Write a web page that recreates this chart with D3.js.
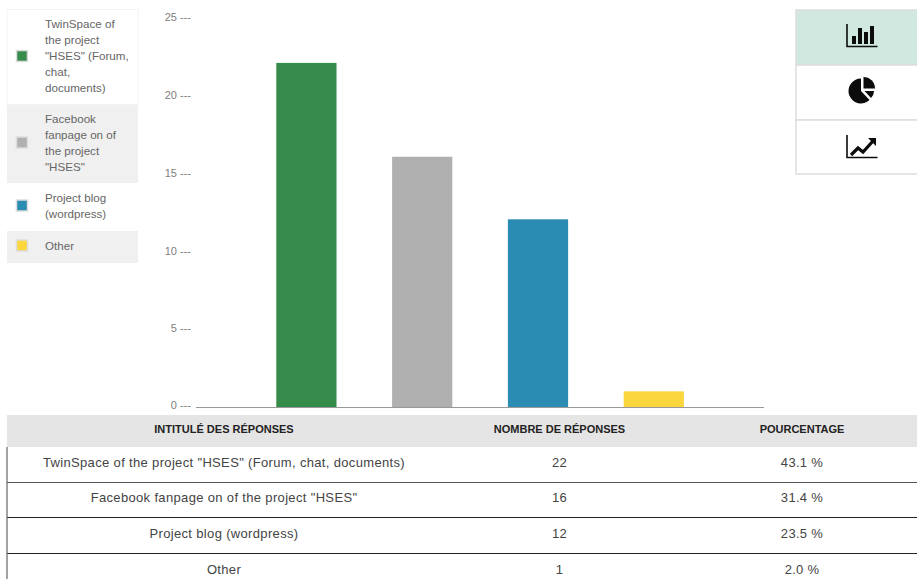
<!DOCTYPE html>
<html><head><meta charset="utf-8">
<script src="https://cdn.jsdelivr.net/npm/d3@7"></script>
<style>html,body{margin:0;padding:0;background:#fff}svg{display:block;font-family:"Liberation Sans",Arial,sans-serif}</style>
</head><body><svg id="c" width="917" height="579"></svg>
<script>
const categories=['TwinSpace of the project "HSES" (Forum, chat, documents)','Facebook fanpage on of the project "HSES"','Project blog (wordpress)','Other'];
const legendLines=[['TwinSpace of','the project','"HSES" (Forum,','chat,','documents)'],['Facebook','fanpage on of','the project','"HSES"'],['Project blog','(wordpress)'],['Other']];
const counts=[22,16,12,1];
const percents=['43.1 %','31.4 %','23.5 %','2.0 %'];
const colors=['#368c4a','#b0b0b0','#2b8cb3','#fbd63d'];
const headers=['INTITULÉ DES RÉPONSES','NOMBRE DE RÉPONSES','POURCENTAGE'];
const yTicks=[0,5,10,15,20,25];

const svg=d3.select('#c');
const y=d3.scaleLinear().domain([0,25]).range([407,16]);
const x=d3.scaleBand().domain(categories).range([248.5,711.7]).paddingInner(0.48).paddingOuter(0.24);

// y axis
const ax=svg.append('g').attr('transform','translate(196,0)').call(d3.axisLeft(y).tickValues(yTicks).tickSize(0).tickPadding(5).tickFormat(d=>d+' ---'));
ax.select('.domain').remove();
ax.selectAll('text').attr('font-family','"Liberation Sans",Arial,sans-serif').attr('font-size',11).attr('fill','#808080').attr('y',d=>d>=15?1:d===10?0:d===5?-1:-2).attr('dy','0.32em');
ax.selectAll('.tick').append('rect').attr('x',0).attr('y',-0.5).attr('width',1).attr('height',1).attr('fill','#eee');

// bars
svg.append('g').selectAll('rect').data(categories).join('rect')
 .attr('x',d=>x(d)).attr('width',x.bandwidth())
 .attr('y',(d,i)=>y(counts[i])).attr('height',(d,i)=>y(0)-y(counts[i]))
 .attr('fill',(d,i)=>colors[i]);
svg.append('line').attr('x1',196).attr('x2',764).attr('y1',407.5).attr('y2',407.5).attr('stroke','#999');

// legend
const rowsTop=[10,105,183,231,263];
const lg=svg.append('g');
categories.forEach((c,i)=>{
  const t=rowsTop[i],b=rowsTop[i+1],m=(t+b)/2;
  lg.append('rect').attr('x',7).attr('y',t).attr('width',131).attr('height',b-t).attr('fill',i%2?'#f0f0f0':'#fff');
  lg.append('rect').attr('x',16.5).attr('y',m-7).attr('width',11).attr('height',11).attr('fill',colors[i]).attr('stroke','#ddd').attr('stroke-width',1.5);
  legendLines[i].forEach((l,j)=>{
    lg.append('text').attr('x',45).attr('y',m-1.5+(j-(legendLines[i].length-1)/2)*16).attr('dy','0.35em').attr('font-size',11.6).attr('fill','#666').text(l);
  });
});
lg.append('rect').attr('x',7).attr('y',9.5).attr('width',131).attr('height',95).attr('fill','none').attr('stroke','#f3f3f3');

// buttons
const btn=svg.append('g');
[[10,65,'#d0e8df'],[65,120,'#fff'],[120,174,'#fff']].forEach(([t,b,f])=>{
  btn.append('rect').attr('x',796).attr('y',t).attr('width',123).attr('height',b-t).attr('fill',f).attr('stroke','#ddd').attr('stroke-width',1.5);
});
const ink='#0c0c0c';
function axesIcon(g,cy){
  g.append('path').attr('d',`M847 ${cy-12}V${cy+10.5}H877.5`).attr('fill','none').attr('stroke',ink).attr('stroke-width',1.6);
}
axesIcon(btn,36);
[[852,4,8],[858,4,16],[864,4,12],[870,4,18]].forEach(([bx,w,h])=>btn.append('rect').attr('x',bx).attr('y',44-h).attr('width',w).attr('height',h).attr('fill',ink));
const arc=d3.arc();
btn.append('path').attr('transform','translate(861,91)').attr('fill',ink).attr('d',arc({innerRadius:0,outerRadius:12.5,startAngle:Math.PI*0.76,endAngle:Math.PI*2}));
btn.append('path').attr('transform','translate(863.5,88.5)').attr('fill',ink).attr('d',arc({innerRadius:0,outerRadius:11.5,startAngle:0,endAngle:Math.PI*0.5}));
btn.append('path').attr('transform','translate(864.5,91)').attr('fill',ink).attr('d',arc({innerRadius:0,outerRadius:9.5,startAngle:Math.PI*0.5,endAngle:Math.PI*0.76}));
axesIcon(btn,147);
btn.append('path').attr('d','M851 155L858 148L863 152L873 141').attr('fill','none').attr('stroke',ink).attr('stroke-width',3.2);
btn.append('path').attr('d','M868 138H876V146Z').attr('fill',ink);

// table
const colX=[224,559.5,802];
const rowY=[462.5,497.5,533.5,569.5];
const tb=svg.append('g');
tb.append('rect').attr('x',7).attr('y',415).attr('width',910).attr('height',32).attr('fill','#e5e5e5');
headers.forEach((h,i)=>tb.append('text').attr('x',colX[i]).attr('y',429).attr('dy','0.35em').attr('text-anchor','middle').attr('font-size',11).attr('font-weight','bold').attr('fill','#222').text(h));
[482,517,553].forEach((ly,i)=>tb.append('line').attr('x1',7).attr('x2',917).attr('y1',ly+.5).attr('y2',ly+.5).attr('stroke',i?'#222':'#555').attr('stroke-width',i?1:1.2));
tb.append('line').attr('x1',7).attr('x2',7).attr('y1',447).attr('y2',579).attr('stroke','#666').attr('stroke-width',1.2);
categories.forEach((c,i)=>{
  [c,counts[i],percents[i]].forEach((v,k)=>tb.append('text').attr('x',colX[k]).attr('y',rowY[i]).attr('dy','0.35em').attr('text-anchor','middle').attr('font-size',13).attr('letter-spacing',k===0?0.34:0.3).attr('fill','#444').text(v));
});
</script></body></html>
